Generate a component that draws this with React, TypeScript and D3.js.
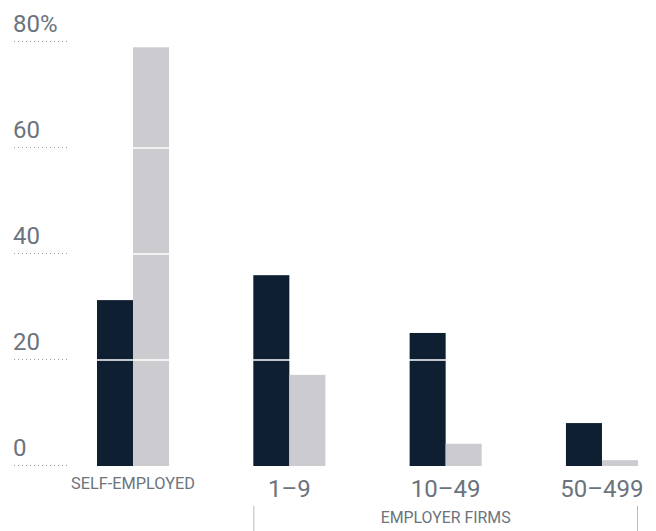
import React from "react";
import * as d3 from "d3";

const categories = ["SELF-EMPLOYED", "1–9", "10–49", "50–499"];
const darkValues = [31.3, 36, 25.1, 8.1];
const lightValues = [79, 17.2, 4.2, 1.1];
const yTicks = [0, 20, 40, 60, 80];
const groupLabel = "EMPLOYER FIRMS";

const W = 656;
const H = 531;
const DARK = "#0e1f31";
const LIGHT = "#cbcbd0";
const TEXT = "#6b737d";
const FONT = "Roboto, 'Noto Sans', sans-serif";

export default function App() {
  const y = d3.scaleLinear().domain([0, 80]).range([466, 42]);
  const x = d3.scaleBand<string>().domain(categories).range([97, 638]).paddingInner(0.539).paddingOuter(0);
  const bw = x.bandwidth() / 2;

  return (
    <svg width={W} height={H} style={{ position: "absolute", left: 0, top: 0 }}>
      {yTicks.map((t) => (
        <g key={t}>
          <line x1={14} x2={70} y1={y(t) - 0.5} y2={y(t) - 0.5} stroke="#9aa0a8" strokeWidth={1} strokeDasharray="1,3" />
          <text x={13} y={y(t) - 10} fontFamily={FONT} fontSize={24} fill={TEXT}>
            {t === 80 ? "80%" : String(t)}
          </text>
        </g>
      ))}
      {categories.map((c, i) => {
        const x0 = x(c)!;
        return (
          <g key={c}>
            <rect x={x0} y={y(darkValues[i])} width={bw} height={y(0) - y(darkValues[i])} fill={DARK} />
            <rect x={x0 + bw} y={y(lightValues[i])} width={bw} height={y(0) - y(lightValues[i])} fill={LIGHT} />
          </g>
        );
      })}
      {yTicks
        .filter((t) => t > 0 && t < 80)
        .map((t) => (
          <line key={"g" + t} x1={80} x2={650} y1={y(t)} y2={y(t)} stroke="#fff" strokeWidth={1.5} />
        ))}
      {categories.map((c, i) => {
        const cx = x(c)! + bw;
        return i === 0 ? (
          <text key={c} x={cx} y={489} textAnchor="middle" fontFamily={FONT} fontSize={16} fill={TEXT} textLength={124} lengthAdjust="spacingAndGlyphs">
            {c}
          </text>
        ) : (
          <text key={c} x={cx} y={497} textAnchor="middle" fontFamily={FONT} fontSize={24} fill={TEXT}>
            {c}
          </text>
        );
      })}
      <line x1={x(categories[1])! + 0.5} x2={x(categories[1])! + 0.5} y1={506} y2={531} stroke="#bbb" strokeWidth={1} />
      <line x1={x(categories[3])! + 2 * bw - 0.5} x2={x(categories[3])! + 2 * bw - 0.5} y1={506} y2={531} stroke="#bbb" strokeWidth={1} />
      <text x={(x(categories[1])! + x(categories[3])! + 2 * bw) / 2} y={523} textAnchor="middle" fontFamily={FONT} fontSize={16} fill={TEXT} textLength={130} lengthAdjust="spacingAndGlyphs">
        {groupLabel}
      </text>
    </svg>
  );
}
